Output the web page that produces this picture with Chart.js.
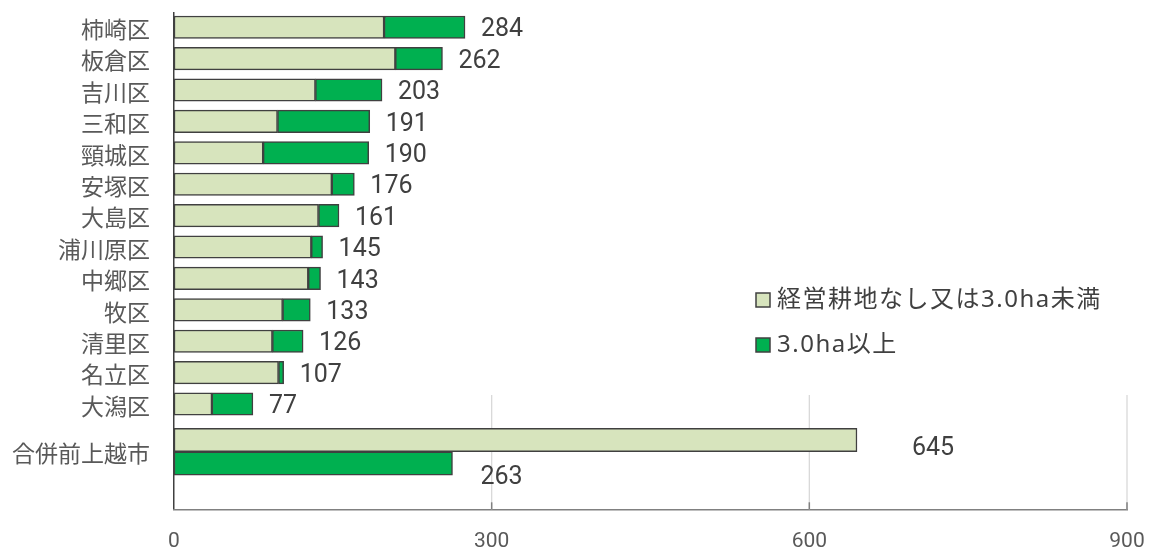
<!DOCTYPE html>
<html>
<head>
<meta charset="utf-8">
<script src="https://cdn.jsdelivr.net/npm/chart.js@4"></script>
<style>
  html, body { margin: 0; padding: 0; background: #ffffff; }
  #wrap { width: 1153px; height: 551px; position: relative; }
</style>
</head>
<body>
<div id="wrap"><canvas id="c" width="1153" height="551"></canvas></div>
<script>
// ---- data ----
const categories = ['柿崎区','板倉区','吉川区','三和区','頸城区','安塚区','大島区','浦川原区','中郷区','牧区','清里区','名立区','大潟区'];
const smallFarm  = [205, 216, 138, 101,  87, 154, 141, 134, 131, 106,  96, 102,  37];
const largeFarm  = [ 79,  46,  65,  90, 103,  22,  20,  11,  12,  27,  30,   5,  40];
const totals     = [284, 262, 203, 191, 190, 176, 161, 145, 143, 133, 126, 107,  77];
const cityLabel  = '合併前上越市';
const citySmall  = 645;
const cityLarge  = 263;
const seriesNames = ['経営耕地なし又は3.0ha未満', '3.0ha以上'];
const xTicks = [0, 300, 600, 900];

// ---- layout constants ----
const CITY_POS = 13.52;      // index-axis position of the merged-city group
const GRID_TOP_POS = 11.71;  // gridlines are only visible in the lower panel
const LIGHT = '#d7e4bd';
const DARK = '#00b050';
const EDGE = '#404040';

const n = categories.length;
const districtData = (arr) => [...arr.map((v, i) => ({x: v, y: i})), {x: null, y: CITY_POS}];
const cityData = (v) => [...categories.map((c, i) => ({x: null, y: i})), {x: v, y: CITY_POS}];
const yLabels = [...categories, cityLabel];
const yPositions = [...categories.map((c, i) => i), CITY_POS];

const common = {
  borderColor: EDGE,
  borderWidth: 1.5,
  borderSkipped: false,
  skipNull: true,
  grouped: true
};

const gridPlugin = {
  id: 'lowerGrid',
  beforeDatasetsDraw(chart) {
    const {ctx, chartArea, scales} = chart;
    const yTop = scales.y.getPixelForValue(GRID_TOP_POS);
    ctx.save();
    xTicks.forEach(v => {
      if (v === 0) return;
      const x = scales.x.getPixelForValue(v);
      ctx.strokeStyle = '#d9d9d9';
      ctx.lineWidth = 1.3;
      ctx.beginPath();
      ctx.moveTo(x, yTop);
      ctx.lineTo(x, chartArea.bottom);
      ctx.stroke();
      ctx.strokeStyle = '#808080';
      ctx.lineWidth = 1.5;
      ctx.beginPath();
      ctx.moveTo(x, chartArea.bottom - 7);
      ctx.lineTo(x, chartArea.bottom);
      ctx.stroke();
    });
    ctx.restore();
  }
};

const labelPlugin = {
  id: 'valueLabels',
  afterDatasetsDraw(chart) {
    const {ctx, scales} = chart;
    ctx.save();
    ctx.font = '25px Roboto, "Noto Sans", sans-serif';
    ctx.fillStyle = '#404040';
    ctx.textAlign = 'left';
    ctx.textBaseline = 'middle';
    totals.forEach((t, i) => {
      const x = scales.x2.getPixelForValue(t) + 16;
      const y = scales.y.getPixelForValue(i) + 3;
      ctx.fillText(String(t), x, y);
    });
    const m2 = chart.getDatasetMeta(2).data[n];
    const m3 = chart.getDatasetMeta(3).data[n];
    if (m2) ctx.fillText(String(citySmall), m2.x + 55, m2.y + 9);
    if (m3) ctx.fillText(String(cityLarge), m3.x + 28, m3.y + 14.5);

    // legend
    const rows = [[seriesNames[0], LIGHT, 300], [seriesNames[1], DARK, 345]];
    ctx.font = '24px "Noto Sans", "Noto Sans CJK JP", sans-serif';
    if ('letterSpacing' in ctx) ctx.letterSpacing = '1.5px';
    rows.forEach(([txt, col, cy]) => {
      ctx.fillStyle = col;
      ctx.fillRect(756, cy - 7, 14, 14);
      ctx.strokeStyle = EDGE;
      ctx.lineWidth = 1.5;
      ctx.strokeRect(756, cy - 7, 14, 14);
      ctx.fillStyle = '#404040';
      ctx.fillText(txt, 777, cy);
    });
    ctx.restore();
  }
};

new Chart(document.getElementById('c'), {
  type: 'bar',
  data: {
    datasets: [
      {...common, label: seriesNames[0], data: districtData(smallFarm), backgroundColor: LIGHT, stack: 'd', xAxisID: 'x2', barThickness: 22.5},
      {...common, label: seriesNames[1], data: districtData(largeFarm), backgroundColor: DARK, stack: 'd', xAxisID: 'x2', barThickness: 22.5},
      {...common, label: seriesNames[0], data: cityData(citySmall), backgroundColor: LIGHT, stack: 'c1', xAxisID: 'x', barThickness: 23.5},
      {...common, label: seriesNames[1], data: cityData(cityLarge), backgroundColor: DARK, stack: 'c2', xAxisID: 'x', barThickness: 23.5}
    ]
  },
  options: {
    indexAxis: 'y',
    responsive: false,
    animation: false,
    maintainAspectRatio: false,
    layout: { padding: { left: 0, right: 26, top: 12.7, bottom: 0 } },
    plugins: { legend: { display: false }, tooltip: { enabled: false } },
    scales: {
      y: {
        type: 'linear',
        reverse: true,
        min: -0.462,
        max: 15.353,
        offset: false,
        stacked: true,
        grid: { display: false, drawTicks: false, offset: false },
        border: { display: true, color: EDGE, width: 1.5 },
        afterBuildTicks(scale) { scale.ticks = yPositions.map(v => ({value: v})); },
        afterFit(scale) { scale.width = 174; scale.paddingTop = 0; scale.paddingBottom = 0; },
        ticks: {
          autoSkip: false,
          padding: 24,
          labelOffset: 2,
          color: '#595959',
          font: { family: '"Noto Sans CJK JP", sans-serif', size: 23 },
          callback: (v, i) => yLabels[i]
        }
      },
      x: {
        type: 'linear',
        min: 0,
        max: 900,
        stacked: true,
        afterBuildTicks(scale) { scale.ticks = xTicks.map(v => ({value: v})); },
        afterFit(scale) { scale.height = 41.7; scale.paddingLeft = 0; scale.paddingRight = 0; },
        grid: { display: false, drawTicks: false },
        border: { display: true, color: '#808080', width: 1.5 },
        ticks: {
          padding: 20,
          color: '#595959',
          font: { family: 'Roboto, sans-serif', size: 21 }
        }
      },
      x2: {
        type: 'linear',
        display: false,
        min: 0,
        max: 930,
        stacked: true
      }
    }
  },
  plugins: [gridPlugin, labelPlugin]
});
</script>
</body>
</html>
